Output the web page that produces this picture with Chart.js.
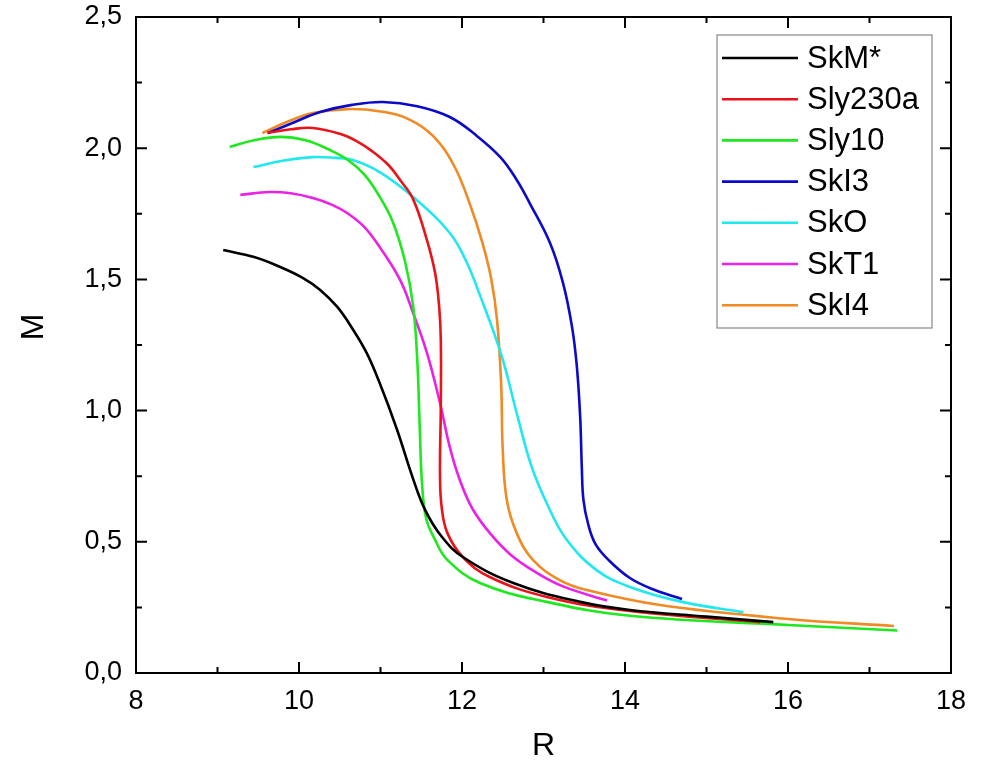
<!DOCTYPE html>
<html>
<head>
<meta charset="utf-8">
<script src="https://cdn.jsdelivr.net/npm/chart.js@4.4.0/dist/chart.umd.min.js"></script>
<style>
  html, body { margin: 0; padding: 0; background: #fff; }
  #wrap { width: 989px; height: 762px; }
</style>
</head>
<body>
<div id="wrap"><canvas id="myChart" width="989" height="762"></canvas></div>
<script>
'use strict';
// values (R in km, M in solar masses)
let labels = ['SkM*', 'Sly230a', 'Sly10', 'SkI3', 'SkO', 'SkT1', 'SkI4'];
let colors = ['#000000', '#e8141a', '#1ee81e', '#0a0ac8', '#22e8ee', '#ea22e6', '#f08a24'];

let skmR = [9.07, 9.45, 9.77, 10.05, 10.26, 10.47, 10.65, 10.83, 10.99, 11.20, 11.40, 11.55, 11.75, 12.01, 12.63, 13.45, 14.06, 15.0, 15.82];
let skmM = [1.612, 1.585, 1.547, 1.505, 1.460, 1.395, 1.315, 1.220, 1.105, 0.930, 0.740, 0.620, 0.520, 0.442, 0.343, 0.271, 0.240, 0.215, 0.194];

let sly230R = [9.61, 9.90, 10.17, 10.50, 10.70, 10.90, 11.10, 11.25, 11.40, 11.57, 11.67, 11.72, 11.74, 11.74, 11.73, 11.75, 11.82, 12.01, 12.34, 13.04, 14.06, 15.66];
let sly230M = [2.058, 2.072, 2.077, 2.055, 2.028, 1.988, 1.935, 1.875, 1.806, 1.650, 1.524, 1.395, 1.269, 1.014, 0.762, 0.633, 0.534, 0.442, 0.366, 0.290, 0.236, 0.194];

let sly10R = [9.15, 9.45, 9.77, 10.08, 10.38, 10.60, 10.80, 10.98, 11.15, 11.30, 11.40, 11.45, 11.48, 11.51, 11.56, 11.67, 11.82, 12.22, 13.04, 14.06, 16.0, 17.34];
let sly10M = [2.005, 2.030, 2.043, 2.030, 1.993, 1.955, 1.900, 1.820, 1.720, 1.570, 1.400, 1.200, 0.950, 0.720, 0.590, 0.507, 0.431, 0.343, 0.271, 0.218, 0.183, 0.162];

let ski3R = [9.62, 9.95, 10.26, 10.65, 11.03, 11.45, 11.85, 12.17, 12.47, 12.67, 12.83, 13.08, 13.24, 13.35, 13.41, 13.45, 13.47, 13.49, 13.55, 13.64, 13.80, 14.06, 14.35, 14.70];
let ski3M = [2.058, 2.100, 2.138, 2.165, 2.176, 2.160, 2.119, 2.050, 1.966, 1.880, 1.791, 1.639, 1.486, 1.319, 1.166, 0.976, 0.785, 0.660, 0.565, 0.490, 0.430, 0.362, 0.318, 0.282];

let skoR = [9.44, 9.80, 10.17, 10.45, 10.66, 10.99, 11.40, 11.85, 12.05, 12.22, 12.48, 12.68, 12.85, 13.05, 13.28, 13.66, 14.06, 14.70, 15.45];
let skoM = [1.928, 1.952, 1.966, 1.963, 1.955, 1.909, 1.814, 1.677, 1.570, 1.440, 1.215, 0.980, 0.790, 0.640, 0.510, 0.390, 0.328, 0.271, 0.232];

let skt1R = [9.28, 9.64, 9.90, 10.17, 10.40, 10.59, 10.80, 10.99, 11.24, 11.40, 11.57, 11.73, 11.85, 11.98, 12.13, 12.35, 12.60, 12.90, 13.24, 13.78];
let skt1M = [1.822, 1.833, 1.828, 1.810, 1.785, 1.753, 1.700, 1.623, 1.498, 1.372, 1.220, 1.029, 0.861, 0.730, 0.625, 0.530, 0.450, 0.385, 0.330, 0.276];

let ski4R = [9.55, 9.85, 10.17, 10.59, 11.00, 11.35, 11.65, 11.90, 12.10, 12.25, 12.36, 12.43, 12.48, 12.50, 12.55, 12.67, 12.87, 13.20, 13.53, 14.43, 16.0, 17.30];
let ski4M = [2.058, 2.100, 2.134, 2.149, 2.140, 2.110, 2.045, 1.935, 1.784, 1.640, 1.500, 1.345, 1.105, 0.850, 0.659, 0.534, 0.431, 0.354, 0.316, 0.259, 0.206, 0.179];

let xTicks = [8, 10, 12, 14, 16, 18];
let yTicks = [0, 0.5, 1.0, 1.5, 2.0, 2.5];

let allR = [skmR, sly230R, sly10R, ski3R, skoR, skt1R, ski4R];
let allM = [skmM, sly230M, sly10M, ski3M, skoM, skt1M, ski4M];

function toPoints(rs, ms) {
    let pts = [];
    for (let i = 0; i < rs.length; i++) {
        pts.push({ x: rs[i], y: ms[i] });
    }
    return pts;
}

let datasets = [];
for (let i = 0; i < labels.length; i++) {
    datasets.push({
        label: labels[i],
        data: toPoints(allR[i], allM[i]),
        borderColor: colors[i],
        backgroundColor: colors[i],
        borderWidth: 2.6,
        showLine: true,
        pointRadius: 0,
        tension: 0.4
    });
}

function comma(v) {
    return v.toFixed(1).replace('.', ',');
}

// frame, inward ticks on all sides, axis titles and the legend box
let framePlugin = {
    id: 'frame',
    afterDatasetsDraw(chart) {
        let ctx = chart.ctx;
        let a = chart.chartArea;
        let xs = chart.scales.x;
        let ys = chart.scales.y;
        ctx.save();
        ctx.strokeStyle = '#000';
        ctx.lineWidth = 2;
        ctx.strokeRect(a.left, a.top, a.right - a.left, a.bottom - a.top);

        ctx.beginPath();
        for (let v = 8; v <= 18; v += 1) {
            let px = xs.getPixelForValue(v);
            let len = (v % 2 === 0) ? 11 : 6;
            ctx.moveTo(px, a.bottom); ctx.lineTo(px, a.bottom - len);
            ctx.moveTo(px, a.top); ctx.lineTo(px, a.top + len);
        }
        for (let k = 0; k <= 10; k++) {
            let v = k * 0.25;
            let py = ys.getPixelForValue(v);
            let len = (k % 2 === 0) ? 11 : 6;
            ctx.moveTo(a.left, py); ctx.lineTo(a.left + len, py);
            ctx.moveTo(a.right, py); ctx.lineTo(a.right - len, py);
        }
        ctx.stroke();

        // axis titles
        ctx.fillStyle = '#000';
        ctx.font = '32px "Liberation Sans", Arial, sans-serif';
        ctx.textAlign = 'center';
        ctx.textBaseline = 'middle';
        ctx.fillText('R', (a.left + a.right) / 2, 746);
        ctx.save();
        ctx.translate(34, 327);
        ctx.rotate(-Math.PI / 2);
        ctx.fillText('M', 0, 0);
        ctx.restore();

        // legend
        let lx = 717, ly = 35, lw = 215, lh = 293;
        ctx.fillStyle = '#fff';
        ctx.fillRect(lx, ly, lw, lh);
        ctx.strokeStyle = '#888';
        ctx.lineWidth = 1.2;
        ctx.strokeRect(lx, ly, lw, lh);
        ctx.textAlign = 'left';
        ctx.font = '31px "Liberation Sans", Arial, sans-serif';
        chart.data.datasets.forEach(function (ds, i) {
            let ry = 58 + i * 41.2;
            ctx.strokeStyle = ds.borderColor;
            ctx.lineWidth = 2.6;
            ctx.beginPath();
            ctx.moveTo(722, ry);
            ctx.lineTo(798, ry);
            ctx.stroke();
            ctx.fillStyle = '#000';
            ctx.fillText(ds.label, 807, ry + 1);
        });
        ctx.restore();
    }
};

let ctx = document.getElementById('myChart').getContext('2d');
let myChart = new Chart(ctx, {
    type: 'scatter',
    data: { datasets: datasets },
    options: {
        responsive: false,
        animation: false,
        layout: { padding: { top: 17, right: 38, left: 0, bottom: 0 } },
        plugins: {
            legend: { display: false },
            tooltip: { enabled: false }
        },
        scales: {
            x: {
                type: 'linear',
                min: 8,
                max: 18,
                afterFit(scale) {
                    scale.height = 89;
                    scale.paddingLeft = 0;
                    scale.paddingRight = 0;
                },
                afterBuildTicks(scale) { scale.ticks = xTicks.map(function (v) { return { value: v }; }); },
                grid: { display: false, drawTicks: false },
                border: { display: false },
                ticks: {
                    padding: 12,
                    color: '#000',
                    font: { family: '"Liberation Sans", Arial, sans-serif', size: 27 },
                    callback: function (v) { return String(v); }
                }
            },
            y: {
                type: 'linear',
                min: 0,
                max: 2.5,
                afterFit(scale) {
                    scale.width = 136;
                    scale.paddingTop = 0;
                    scale.paddingBottom = 0;
                },
                afterBuildTicks(scale) { scale.ticks = yTicks.map(function (v) { return { value: v }; }); },
                grid: { display: false, drawTicks: false },
                border: { display: false },
                ticks: {
                    padding: 14,
                    color: '#000',
                    font: { family: '"Liberation Sans", Arial, sans-serif', size: 27 },
                    callback: function (v) { return comma(v); }
                }
            }
        }
    },
    plugins: [framePlugin]
});
</script>
</body>
</html>
